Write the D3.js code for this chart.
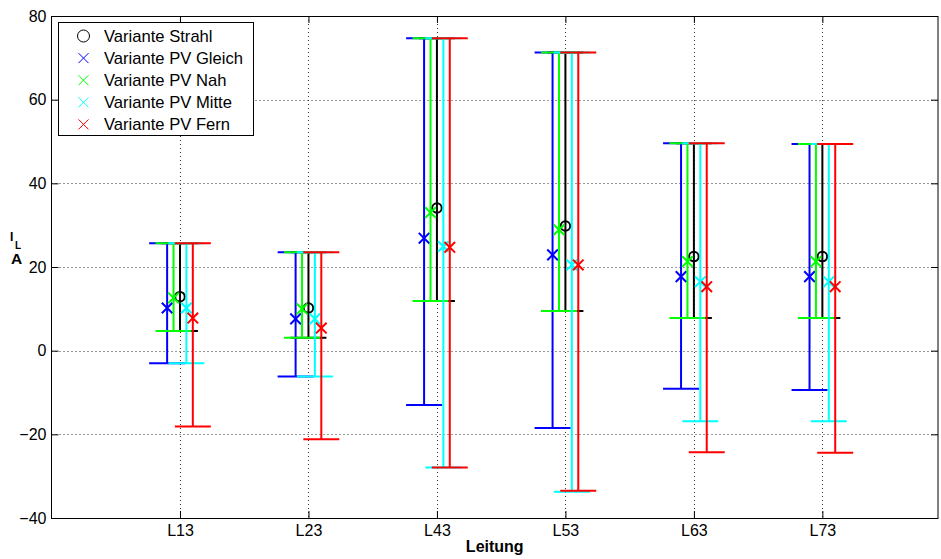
<!DOCTYPE html>
<html>
<head>
<meta charset="utf-8">
<script src="https://cdn.jsdelivr.net/npm/d3@7"></script>
<style>
  html, body { margin: 0; padding: 0; background: #fff; }
  svg { display: block; font-family: "Liberation Sans", Arial, sans-serif; }
</style>
</head>
<body>
<svg id="chart" width="941" height="559"></svg>
<script>
// Lines (x axis categories) and y ticks
const categories = ["L13", "L23", "L43", "L53", "L63", "L73"];
const yTicks = [-40, -20, 0, 20, 40, 60, 80];

// Shared upper bound of every variant per line
const upperBound = [25.7, 23.5, 74.7, 71.3, 49.6, 49.4];

// Variante Strahl
const strahlMean  = [12.9, 10.2, 34.1, 29.8, 22.5, 22.5];
const strahlLower = [4.7, 3.1, 11.9, 9.5, 7.8, 7.8];
// Variante PV Gleich
const gleichMean  = [10.2, 7.6, 26.9, 22.9, 17.7, 17.7];
const gleichLower = [-3.0, -6.2, -13.0, -18.5, -9.1, -9.4];
// Variante PV Nah
const nahMean  = [12.6, 10.0, 33.0, 28.9, 21.3, 21.3];
const nahLower = [4.7, 3.1, 11.9, 9.5, 7.8, 7.8];
// Variante PV Mitte
const mitteMean  = [10.2, 7.6, 24.9, 20.5, 16.5, 16.5];
const mitteLower = [-3.0, -6.2, -27.9, -33.7, -16.9, -16.9];
// Variante PV Fern
const fernMean  = [7.8, 5.4, 24.7, 20.5, 15.3, 15.3];
const fernLower = [-18.1, -21.2, -27.9, -33.5, -24.3, -24.4];

const series = [
  { name: "Variante Strahl",    color: "#000000", marker: "o", offset: 0,     mean: strahlMean, lower: strahlLower },
  { name: "Variante PV Gleich", color: "#0000ff", marker: "x", offset: -0.1,  mean: gleichMean, lower: gleichLower },
  { name: "Variante PV Nah",    color: "#00ff00", marker: "x", offset: -0.05, mean: nahMean,    lower: nahLower },
  { name: "Variante PV Mitte",  color: "#00ffff", marker: "x", offset: 0.05,  mean: mitteMean,  lower: mitteLower },
  { name: "Variante PV Fern",   color: "#ff0000", marker: "x", offset: 0.1,   mean: fernMean,   lower: fernLower }
];

const svg = d3.select("#chart");
const plotLeft = 51.5, plotRight = 938, plotTop = 16, plotBottom = 518;
const fontSize = 16;

const x = d3.scaleLinear().domain([0, 6.9]).range([plotLeft, plotRight]);
const y = d3.scaleLinear().domain([-40, 80]).range([plotBottom, plotTop]);
const capHalf = 0.14; // half cap width in x units

// dotted grid
const grid = svg.append("g").attr("stroke", "#333").attr("stroke-width", 1)
  .attr("stroke-dasharray", "1,3");
yTicks.forEach(v => {
  grid.append("line").attr("x1", plotLeft).attr("x2", plotRight)
    .attr("y1", Math.round(y(v)) + 0.5).attr("y2", Math.round(y(v)) + 0.5);
});
categories.forEach((c, i) => {
  const px = Math.round(x(i + 1)) + 0.5;
  grid.append("line").attr("x1", px).attr("x2", px).attr("y1", plotTop).attr("y2", plotBottom);
});

// axes
const xAxis = d3.axisBottom(x).tickValues(categories.map((c, i) => i + 1))
  .tickFormat((d) => categories[d - 1]).tickSize(-7).tickPadding(7);
const yAxis = d3.axisLeft(y).tickValues(yTicks).tickSize(-7).tickPadding(5);

function styleAxis(g) {
  g.select(".domain").remove();
  g.selectAll(".tick line").attr("stroke", "#000");
  g.selectAll(".tick text").attr("fill", "#000").attr("font-size", fontSize)
    .attr("font-family", "Liberation Sans, Arial, sans-serif");
}
svg.append("g").attr("transform", `translate(0,${plotBottom})`).call(xAxis).call(styleAxis);
svg.append("g").attr("transform", `translate(${plotLeft},0)`).call(yAxis).call(styleAxis);
// ticks on top and right edges
svg.append("g").attr("transform", `translate(0,${plotTop})`)
  .call(d3.axisTop(x).tickValues(categories.map((c, i) => i + 1)).tickSize(-7).tickFormat(""))
  .call(styleAxis);
svg.append("g").attr("transform", `translate(${plotRight},0)`)
  .call(d3.axisRight(y).tickValues(yTicks).tickSize(-7).tickFormat(""))
  .call(styleAxis);

// frame
svg.append("rect").attr("x", plotLeft).attr("y", plotTop + 0.5)
  .attr("width", plotRight - plotLeft).attr("height", plotBottom - plotTop)
  .attr("fill", "none").attr("stroke", "#000").attr("stroke-width", 1);

// error bars and markers
const plot = svg.append("g");
series.forEach(s => {
  const g = plot.append("g").attr("stroke", s.color).attr("stroke-width", 2).attr("fill", "none");
  categories.forEach((c, i) => {
    const cx = i + 1 + s.offset;
    const lo = s.lower[i], hi = upperBound[i];
    g.append("line").attr("x1", x(cx)).attr("x2", x(cx)).attr("y1", y(lo)).attr("y2", y(hi));
    g.append("line").attr("x1", x(cx - capHalf)).attr("x2", x(cx + capHalf)).attr("y1", y(lo)).attr("y2", y(lo));
    g.append("line").attr("x1", x(cx - capHalf)).attr("x2", x(cx + capHalf)).attr("y1", y(hi)).attr("y2", y(hi));
  });
  categories.forEach((c, i) => {
    const px = x(i + 1 + s.offset), py = y(s.mean[i]);
    if (s.marker === "o") {
      g.append("circle").attr("cx", px).attr("cy", py).attr("r", 4.8);
    } else {
      const h = 5.3;
      g.append("path").attr("d", `M${px - h},${py - h}L${px + h},${py + h}M${px - h},${py + h}L${px + h},${py - h}`);
    }
  });
});

// axis labels
svg.append("text").attr("x", (plotLeft + plotRight) / 2).attr("y", 552).attr("text-anchor", "middle")
  .attr("font-size", fontSize).attr("font-weight", "bold").text("Leitung");
const yLab = svg.append("g").attr("font-weight", "bold").attr("fill", "#000");
yLab.append("text").attr("x", 10).attr("y", 240.5).attr("font-size", 12).text("I");
yLab.append("text").attr("x", 15).attr("y", 248.5).attr("font-size", 10).text("L");
yLab.append("text").attr("x", 11).attr("y", 263.5).attr("font-size", 15.5).text("A");

// legend
const lg = svg.append("g");
lg.append("rect").attr("x", 58.5).attr("y", 22.5).attr("width", 195).attr("height", 113)
  .attr("fill", "#fff").attr("stroke", "#000").attr("stroke-width", 1);
series.forEach((s, k) => {
  const cy = 36 + k * 22.1, mx = 83.5;
  if (s.marker === "o") {
    lg.append("circle").attr("cx", mx).attr("cy", cy).attr("r", 6)
      .attr("fill", "none").attr("stroke", s.color).attr("stroke-width", 1);
  } else {
    const h = 5;
    lg.append("path").attr("d", `M${mx - h},${cy - h}L${mx + h},${cy + h}M${mx - h},${cy + h}L${mx + h},${cy - h}`)
      .attr("fill", "none").attr("stroke", s.color).attr("stroke-width", 1);
  }
  lg.append("text").attr("x", 104).attr("y", cy + 5.5).attr("font-size", 16.6).attr("fill", "#000").text(s.name);
});
</script>
</body>
</html>
